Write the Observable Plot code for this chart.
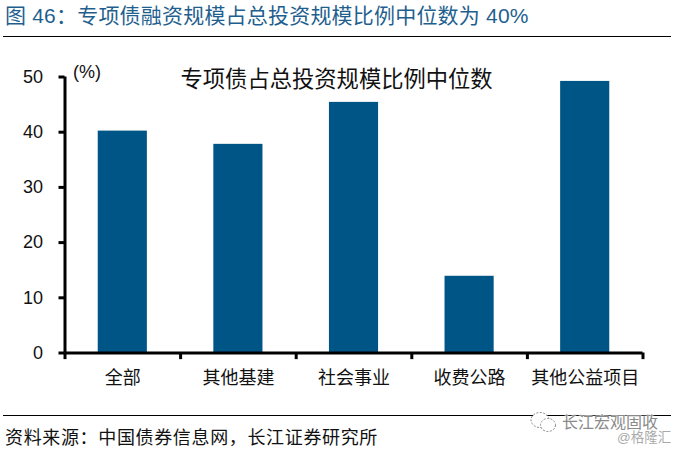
<!DOCTYPE html>
<html><head><meta charset="utf-8">
<script src="https://cdn.jsdelivr.net/npm/d3@7"></script>
<script src="https://cdn.jsdelivr.net/npm/@observablehq/plot@0.6"></script>
<style>
html,body{margin:0;padding:0;background:#fff;width:677px;height:451px;overflow:hidden}
body{position:relative;font-family:"Liberation Sans","Noto Sans CJK SC",sans-serif}
#title{position:absolute;left:5px;top:3px;font-size:21px;line-height:26px;color:#1f5f8f;letter-spacing:.2px;white-space:nowrap}
#r1{position:absolute;left:3px;top:36px;width:668px;height:1px;background:#000}
#chart{position:absolute;left:0;top:37px}
#r2{position:absolute;left:3px;top:415px;width:668px;height:1px;background:#000}
#src{position:absolute;left:5px;top:427px;font-size:18px;line-height:22px;color:#111;letter-spacing:.65px;white-space:nowrap}
#wm1{position:absolute;left:562px;top:414px;font-size:16px;line-height:17px;color:#8a8a8a;text-shadow:0 0 2px #fff,0 0 2px #fff,0 0 3px #fff;white-space:nowrap}
#wm2{position:absolute;left:617px;top:430px;font-size:13.5px;line-height:15px;color:#aaa;white-space:nowrap}
#icon{position:absolute;left:529px;top:411px}
</style></head><body>
<div id="title">图 46：专项债融资规模占总投资规模比例中位数为 40%</div>
<div id="r1"></div>
<div id="chart"></div>
<div id="r2"></div>
<div id="src">资料来源：中国债券信息网，长江证券研究所</div>
<svg id="icon" width="30" height="24" fill="#fff" stroke="#888" stroke-width="1" stroke-dasharray="2 1.5"><ellipse cx="11" cy="9" rx="9" ry="7.5"/><ellipse cx="19" cy="14" rx="7.5" ry="6.5"/></svg>
<div id="wm1">长江宏观固收</div>
<div id="wm2">@格隆汇</div>
<script>
const categories = ["全部","其他基建","社会事业","收费公路","其他公益项目"];
const values = [40.2, 37.8, 45.4, 13.9, 49.2];
const yTicks = [0,10,20,30,40,50];
const chartTitle = "专项债占总投资规模比例中位数";
const table = categories.map((c,i)=>({c,v:values[i]}));
const step = 115.6;
const plot = Plot.plot({
  width:677, height:378,
  marginLeft:64.5, marginRight:34.5, marginTop:39.5, marginBottom:62.5,
  style:{fontFamily:'"Liberation Sans","Noto Sans CJK SC",sans-serif',fontSize:"18px",color:"#111",background:"#fff",overflow:"visible"},
  x:{domain:categories,paddingInner:0.575,paddingOuter:0.2875,align:0.5,round:false,label:null},
  y:{domain:[0,50],label:null},
  marks:[
    Plot.barY(table,{x:"c",y:"v",fill:"#005587"}),
    Plot.ruleY([0],{stroke:"#000",strokeWidth:3}),
    Plot.ruleX(categories,{x:d=>d,y1:0,y2:-1.2,dx:-step/2,stroke:"#000",strokeWidth:3}),
    Plot.ruleX(categories.slice(-1),{x:d=>d,y1:0,y2:-1.2,dx:step/2,stroke:"#000",strokeWidth:3}),
    Plot.ruleX([categories[0]],{x:d=>d,y1:0,y2:50,dx:-step/2,stroke:"#000",strokeWidth:3}),
    Plot.axisY({ticks:yTicks,tickSize:6,tickPadding:16,strokeWidth:3,stroke:"#000",label:null,fontSize:18,fill:"#111"}),
    Plot.axisX({tickSize:0,tickPadding:18,label:null,fontSize:18,fill:"#111",lineAnchor:"top"}),
    Plot.text(["(%)"],{frameAnchor:"top-left",dx:8,dy:-12,fontSize:18,textAnchor:"start",fill:"#111"}),
    Plot.text([chartTitle],{frameAnchor:"top-left",dx:115.5,dy:-6,fontSize:22.3,textAnchor:"start",fill:"#111"})
  ]
});
document.getElementById("chart").appendChild(plot);
</script>
</body></html>
